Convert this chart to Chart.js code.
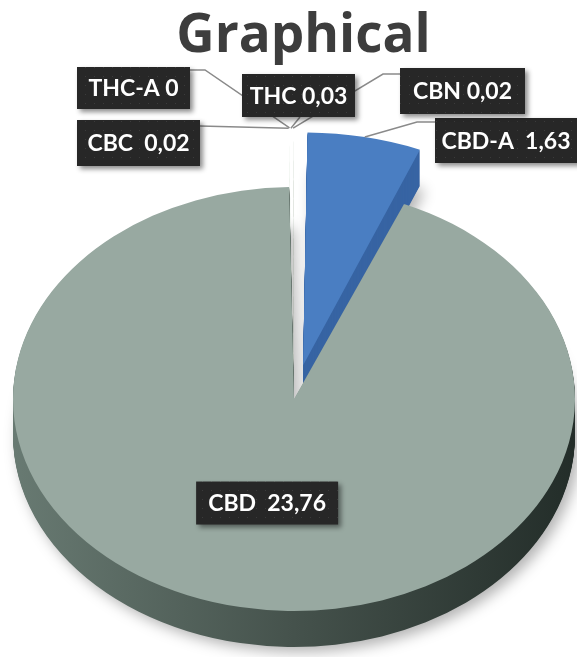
<!DOCTYPE html>
<html>
<head>
<meta charset="utf-8">
<script src="https://cdn.jsdelivr.net/npm/chart.js@4.4.1/dist/chart.umd.min.js"></script>
<style>
  html, body { margin: 0; padding: 0; background: #fff; }
</style>
</head>
<body>
<canvas id="pie" width="577" height="657"></canvas>
<script>
// cannabinoid content
const categories = ['CBD-A', 'CBD', 'CBC', 'THC-A', 'THC', 'CBN'];
const values = [1.63, 23.76, 0.02, 0, 0.03, 0.02];
const labelGap = [2, 2, 2, 1, 1, 1];   // spaces between name and value in the labels

const topColors  = ['#4a7ec2', '#98a9a1', '#d3d6cc', '#c4c8b8', '#f3f3ee', '#8d9377'];
const sideColors = ['#3764a3', null,      '#a9ad9d', '#a9ad9d', '#c9cbc0', '#6f745c'];
const explode    = [134, 0, 115, 115, 115, 115];   // chart.js offset, px

// where the flattened pie sits on the page
const CENTER = { x: 294, y: 399 };
const RX = 281, RY = 212, DEPTH = 36;

// callout boxes (page px) and the leader path from box to slice
const callouts = [
  { box: [435, 118, 150, 45], path: [[435, 122], [417, 122]] },  // CBD-A
  { box: null, size: [142, 43] },                                 // CBD, inside
  { box: [77, 120, 123, 46], path: [[200, 126]] },                // CBC
  { box: [77, 67, 113, 42], path: [[190, 70], [205, 70]] },       // THC-A
  { box: [242, 74, 113, 43], path: [[300, 117]] },                // THC
  { box: [400, 68, 125, 46], path: [[400, 74], [383, 74]] },      // CBN
];

const fmtVal = v => String(v).replace('.', ',');

function tilt(ctx, arc, lift) {
  ctx.translate(CENTER.x, CENTER.y + lift);
  ctx.scale(RX / arc.outerRadius, RY / arc.outerRadius);
  ctx.translate(-arc.x, -arc.y);
}

function project(arc, px, py) {
  return {
    x: CENTER.x + (px - arc.x) * RX / arc.outerRadius,
    y: CENTER.y + (py - arc.y) * RY / arc.outerRadius,
  };
}

// outer tip of a slice, same offset math as ArcElement.draw
function outerTip(arc) {
  const o = (arc.options.offset || 0) / 4;
  const mid = (arc.startAngle + arc.endAngle) / 2;
  const fix = 1 - Math.sin(Math.min(Math.PI, arc.circumference || 0));
  const r = arc.outerRadius + o + o * fix;
  return project(arc, arc.x + Math.cos(mid) * r, arc.y + Math.sin(mid) * r);
}

function dotPattern(ctx) {
  const c = document.createElement('canvas');
  c.width = c.height = 9;
  const p = c.getContext('2d');
  p.fillStyle = '#272727'; p.fillRect(0, 0, 9, 9);
  p.fillStyle = '#3b3b3b'; p.fillRect(4, 4, 1, 1);
  return ctx.createPattern(c, 'repeat');
}

const pie3d = {
  id: 'pie3d',
  beforeDatasetsDraw(chart) {
    const ctx = chart.ctx;
    const arcs = chart.getDatasetMeta(0).data;
    const R = arcs[1].outerRadius, cx = arcs[1].x;
    const grad = ctx.createLinearGradient(cx - R, 0, cx + R, 0);
    grad.addColorStop(0, '#687a72');
    grad.addColorStop(0.5, '#45524c');
    grad.addColorStop(1, '#232d29');

    for (let k = DEPTH; k >= 0; k--) {
      arcs.forEach((arc, i) => {
        const fill = k === 0 ? topColors[i] : (sideColors[i] || grad);
        const saved = arc.options;
        arc.options = Object.assign({}, saved, { backgroundColor: fill });
        ctx.save();
        if (k === DEPTH) {
          ctx.shadowColor = 'rgba(0,0,0,0.3)';
          ctx.shadowBlur = 14;
          ctx.shadowOffsetX = 5;
          ctx.shadowOffsetY = 5;
        }
        tilt(ctx, arc, k);
        arc.draw(ctx);
        ctx.restore();
        arc.options = saved;
      });
    }
    return false;
  },
  afterDraw(chart) {
    const ctx = chart.ctx;
    const arcs = chart.getDatasetMeta(0).data;

    // leader lines first, boxes cover their ends
    ctx.save();
    ctx.strokeStyle = '#8a8a8a';
    ctx.lineWidth = 1.5;
    callouts.forEach((c, i) => {
      if (!c.path) return;
      const tip = outerTip(arcs[i]);
      ctx.beginPath();
      ctx.moveTo(c.path[0][0], c.path[0][1]);
      c.path.slice(1).forEach(p => ctx.lineTo(p[0], p[1]));
      ctx.lineTo(tip.x, tip.y);
      ctx.stroke();
    });
    ctx.restore();

    const pat = dotPattern(ctx);
    callouts.forEach((c, i) => {
      let box = c.box;
      if (!box) {
        const a = arcs[i], t = a.tooltipPosition();
        const p = project(a, t.x, t.y);
        box = [p.x - c.size[0] / 2, p.y - c.size[1] / 2, c.size[0], c.size[1]];
      }
      const [x, y, w, h] = box;
      ctx.save();
      ctx.shadowColor = 'rgba(0,0,0,0.45)';
      ctx.shadowBlur = 5;
      ctx.shadowOffsetX = 3;
      ctx.shadowOffsetY = 3;
      ctx.fillStyle = pat;
      ctx.fillRect(x, y, w, h);
      ctx.restore();

      ctx.save();
      ctx.fillStyle = '#ffffff';
      ctx.font = 'bold 23px Lato, "Open Sans", sans-serif';
      ctx.textAlign = 'center';
      ctx.textBaseline = 'middle';
      const txt = categories[i] + ' '.repeat(labelGap[i]) + fmtVal(values[i]);
      ctx.fillText(txt, x + Math.min(w, 577 - x) / 2, y + h / 2 + 1);
      ctx.restore();
    });
  }
};

new Chart(document.getElementById('pie'), {
  type: 'pie',
  data: {
    labels: categories,
    datasets: [{
      data: values,
      backgroundColor: topColors,
      borderWidth: 0,
      offset: explode,
    }],
  },
  options: {
    responsive: false,
    animation: false,
    layout: { padding: { left: 30 } },
    plugins: {
      legend: { display: false },
      tooltip: { enabled: false },
      title: {
        display: true,
        text: 'Graphical',
        color: '#3d3d3d',
        font: { family: '"Open Sans"', size: 53, weight: 'bold' },
        padding: { top: 5, bottom: 1 },
      },
    },
  },
  plugins: [pie3d],
});
</script>
</body>
</html>
